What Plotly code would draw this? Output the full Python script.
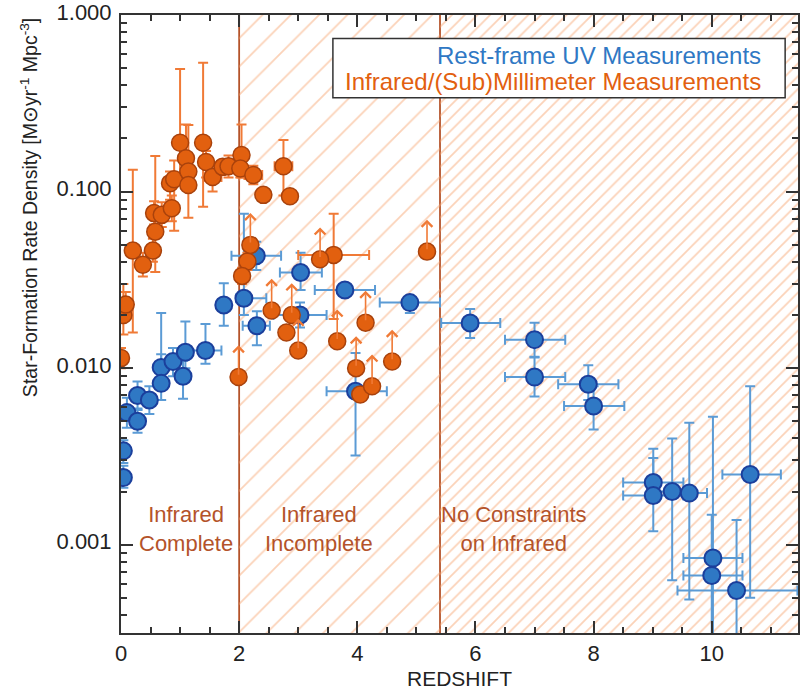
import numpy as np
import plotly.graph_objects as go

# rest-frame UV measurements
uv_z = [0.04, 0.04, 0.10, 0.28, 0.28, 0.48, 0.68, 0.68, 0.88, 1.09, 1.05, 1.43, 1.74, 2.08, 2.29,
        2.30, 3.04, 3.03, 3.79, 4.89, 5.91, 7.00, 7.00, 7.91, 8.00, 9.01, 9.01, 9.33, 9.62,
        10.65, 10.02, 10.00, 10.42, 3.97]
uv_zm = [0.04, 0.04, 0.05, 0.08, 0.08, 0.10, 0.10, 0.10, 0.10, 0.10, 0.10, 0.25, 0.00, 0.13, 0.42,
         0.24, 0.35, 0.45, 0.51, 0.51, 0.49, 0.50, 0.50, 0.51, 0.50, 0.51, 0.51, 0.30, 0.10,
         0.47, 0.50, 0.48, 1.00, 0.49]
uv_zp = [0.04, 0.04, 0.05, 0.08, 0.08, 0.10, 0.10, 0.10, 0.10, 0.10, 0.10, 0.27, 0.00, 0.38, 0.42,
         0.22, 0.36, 0.45, 0.51, 0.51, 0.51, 0.52, 0.52, 0.51, 0.52, 0.51, 0.51, 0.20, 0.30,
         0.52, 0.50, 0.52, 1.03, 0.53]
uv_sfr = [0.0034, 0.0024, 0.0056, 0.0050, 0.0070, 0.0066, 0.0101, 0.0082, 0.0109, 0.0123, 0.0090,
          0.0126, 0.0228, 0.0249, 0.0433, 0.0174, 0.0348, 0.0200, 0.0277, 0.0235, 0.0180, 0.0145,
          0.0089, 0.0081, 0.0061, 0.00225, 0.0019, 0.0020, 0.00196, 0.0025, 0.00084, 0.00067,
          0.00055, 0.0074]
uv_lo = [0.0029, 0.0021, 0.0046, 0.0043, 0.0058, 0.0055, 0.0085, 0.0066, 0.0090, 0.0100, 0.0067,
         0.0106, 0.0174, 0.0200, 0.0360, 0.0135, 0.0277, 0.0170, 0.0255, 0.0205, 0.0148, 0.0116,
         0.0069, 0.0066, 0.0045, 0.0018, 0.00119, 0.00063, 0.00049, 0.0005, 0.0001, 0.0001,
         0.0001, 0.0032]
uv_hi = [0.0039, 0.0028, 0.0068, 0.0059, 0.0084, 0.0079, 0.0120, 0.0205, 0.0130, 0.0184, 0.0110,
         0.0178, 0.0303, 0.0750, 0.0520, 0.0210, 0.0450, 0.0235, 0.0300, 0.0257, 0.0216, 0.0181,
         0.0115, 0.0104, 0.0079, 0.0035, 0.0031, 0.0040, 0.0049, 0.0079, 0.0053, 0.00148,
         0.00138, 0.0122]

# infrared / (sub)mm measurements
ir_z = [0.00, 0.04, 0.08, 0.20, 0.37, 0.54, 0.58, 0.56, 0.69, 0.86, 0.83, 0.90, 1.00, 1.10, 1.14,
        1.14, 1.39, 1.44, 1.55, 1.72, 1.82, 2.04, 2.02, 2.24, 2.41, 2.75, 2.86, 2.14, 2.05, 3.60,
        2.80, 4.05]
ir_zm = [0.00, 0.03, 0.04, 0.05, 0.08, 0.05, 0.05, 0.10, 0.10, 0.10, 0.10, 0.10, 0.10, 0.10, 0.10,
         0.10, 0.10, 0.10, 0.15, 0.10, 0.10, 0.05, 0.10, 0.15, 0.10, 0.15, 0.10, 0.10, 0.05, 0.60,
         0.00, 0.00]
ir_zp = ir_zm
ir_sfr = [0.0114, 0.0200, 0.0229, 0.0463, 0.0385, 0.0463, 0.0593, 0.0755, 0.0738, 0.0805, 0.1116,
          0.1175, 0.189, 0.1545, 0.130, 0.109, 0.189, 0.147, 0.121, 0.138, 0.139, 0.161, 0.135,
          0.124, 0.0958, 0.139, 0.094, 0.0402, 0.0333, 0.0438, 0.0159, 0.0071]
ir_lo = [0.0100, 0.0155, 0.0190, 0.0159, 0.0330, 0.0400, 0.0350, 0.0650, 0.0630, 0.0680, 0.0900,
         0.0600, 0.110, 0.130, 0.115, 0.071, 0.082, 0.120, 0.100, 0.125, 0.120, 0.120, 0.120,
         0.110, 0.0900, 0.095, 0.088, 0.0360, 0.0300, 0.0190, 0.0159, 0.0071]
ir_hi = [0.0130, 0.0300, 0.0270, 0.1330, 0.0450, 0.0540, 0.1590, 0.0880, 0.0870, 0.0950, 0.1300,
         0.1500, 0.495, 0.240, 0.150, 0.238, 0.537, 0.170, 0.145, 0.150, 0.160, 0.240, 0.150,
         0.140, 0.1000, 0.196, 0.100, 0.0450, 0.0370, 0.0750, 0.0159, 0.0071]

# infrared lower limits
lim_z = [2.19, 3.37, 2.55, 2.89, 3.00, 3.66, 4.14, 5.18, 1.99, 3.98, 4.25, 4.59]
lim_sfr = [0.0499, 0.0414, 0.0212, 0.0200, 0.0126, 0.0142, 0.0181, 0.0457, 0.0089, 0.0100, 0.0079, 0.0109]

BLUE = '#2f78c4'
BLUE_DARK = '#1b3f9c'
BLUE_ERR = '#5b9bd5'
ORANGE = '#e2600f'
ORANGE_DARK = '#a9420c'
ORANGE_ERR = '#f07a36'
BROWN = '#b4532a'
HATCH = '#f7a672'
FONT = 'Liberation Sans, Arial, sans-serif'

fig = go.Figure()

# hatched regions
fig.add_trace(go.Scatter(x=[2, 5.4, 5.4, 2, 2], y=[1e-5, 1e-5, 10, 10, 1e-5], mode='lines',
                         line=dict(width=0), fill='toself', fillcolor='rgba(0,0,0,0)',
                         fillpattern=dict(shape='/', fgcolor=HATCH, size=20, solidity=0.09,
                                          bgcolor='rgba(0,0,0,0)'),
                         hoverinfo='skip'))
fig.add_trace(go.Scatter(x=[5.4, 12, 12, 5.4, 5.4], y=[1e-5, 1e-5, 10, 10, 1e-5], mode='lines',
                         line=dict(width=0), fill='toself', fillcolor='rgba(0,0,0,0)',
                         fillpattern=dict(shape='/', fgcolor=HATCH, size=9, solidity=0.2,
                                          bgcolor='rgba(0,0,0,0)'),
                         hoverinfo='skip'))

uv_sfr_a = np.array(uv_sfr)
fig.add_trace(go.Scatter(
    x=uv_z, y=uv_sfr, mode='markers',
    marker=dict(size=17, color=BLUE, line=dict(color=BLUE_DARK, width=2)),
    error_x=dict(type='data', symmetric=False, array=uv_zp, arrayminus=uv_zm,
                 color=BLUE_ERR, thickness=2, width=5),
    error_y=dict(type='data', symmetric=False, array=list(np.array(uv_hi) - uv_sfr_a),
                 arrayminus=list(uv_sfr_a - np.array(uv_lo)), color=BLUE_ERR, thickness=2, width=5),
))

ir_sfr_a = np.array(ir_sfr)
fig.add_trace(go.Scatter(
    x=ir_z, y=ir_sfr, mode='markers',
    marker=dict(size=17, color=ORANGE, line=dict(color=ORANGE_DARK, width=1.5)),
    error_x=dict(type='data', symmetric=False, array=ir_zp, arrayminus=ir_zm,
                 color=ORANGE_ERR, thickness=2, width=5),
    error_y=dict(type='data', symmetric=False, array=list(np.array(ir_hi) - ir_sfr_a),
                 arrayminus=list(ir_sfr_a - np.array(ir_lo)), color=ORANGE_ERR, thickness=2, width=5),
))

fig.add_trace(go.Scatter(
    x=lim_z, y=lim_sfr, mode='markers',
    marker=dict(size=17, color=ORANGE, line=dict(color=ORANGE_DARK, width=1.5)),
))

# lower-limit arrows
for z, s in zip(lim_z, lim_sfr):
    fig.add_annotation(x=z, y=np.log10(s) + 0.18, xref='x', yref='y', text='',
                       showarrow=True, ax=0, ay=31, arrowhead=4, arrowsize=1.3,
                       arrowwidth=1.6, arrowcolor=ORANGE_ERR)

# region boundaries
for xb in [2, 5.4]:
    fig.add_shape(type='line', xref='x', yref='paper', x0=xb, x1=xb, y0=0, y1=1,
                  line=dict(color=BROWN, width=1.8), layer='below')

region_text = ['Infrared<br>Complete', 'Infrared<br>Incomplete', 'No Constraints<br>on Infrared']
region_x = [1.1, 3.36, 6.65]
for t, xr in zip(region_text, region_x):
    fig.add_annotation(x=xr, y=np.log10(0.00122), xref='x', yref='y', text=t, showarrow=False,
                       font=dict(family=FONT, size=22, color=BROWN), align='center')

# legend box
fig.add_shape(type='rect', xref='paper', yref='paper', x0=0.313, x1=0.981, y0=0.866, y1=0.962,
              line=dict(color='#333333', width=1.5), fillcolor='white', layer='above')
fig.add_annotation(xref='paper', yref='paper', x=0.948, y=0.935, xanchor='right', yanchor='middle',
                   text='Rest-frame UV Measurements', showarrow=False,
                   font=dict(family=FONT, size=24, color=BLUE))
fig.add_annotation(xref='paper', yref='paper', x=0.948, y=0.892, xanchor='right', yanchor='middle',
                   text='Infrared/(Sub)Millimeter Measurements', showarrow=False,
                   font=dict(family=FONT, size=24, color=ORANGE))

# axis titles
fig.add_annotation(xref='paper', yref='paper', x=0.5, y=-0.074, xanchor='center', yanchor='middle',
                   text='REDSHIFT', showarrow=False, font=dict(family=FONT, size=21, color='#222222'))
fig.add_annotation(xref='paper', yref='paper', x=-0.136, y=0.689, xanchor='center', yanchor='middle',
                   textangle=-90, showarrow=False,
                   text='Star-Formation Rate Density [M\u2299yr<sup>-1</sup> Mpc<sup>-3</sup>]',
                   font=dict(family=FONT, size=19.5, color='#222222'))

minor_y = [d * 10.0 ** e for e in range(-4, 0) for d in range(2, 10)]

fig.update_layout(
    width=802, height=690,
    margin=dict(l=121, r=4, t=15, b=57),
    plot_bgcolor='white', paper_bgcolor='white',
    showlegend=False,
    font=dict(family=FONT, color='#222222'),
    xaxis=dict(range=[0, 11.46], tickvals=[0, 2, 4, 6, 8, 10], ticks='inside', ticklen=12,
               tickwidth=1.5, tickcolor='#333333', showline=True, linecolor='#333333', linewidth=2,
               mirror='allticks', showgrid=False, zeroline=False, tickfont=dict(size=22),
               automargin=False,
               minor=dict(ticks='inside', ticklen=6, tickwidth=1.5, tickcolor='#333333',
                          dtick=0.5, tick0=0, showgrid=False)),
    yaxis=dict(type='log', range=[-3.5, 0], tickvals=[0.001, 0.01, 0.1, 1],
               ticktext=['0.001', '0.010', '0.100', '1.000'], ticks='inside', ticklen=12,
               tickwidth=1.5, tickcolor='#333333', showline=True, linecolor='#333333', linewidth=2,
               mirror='allticks', showgrid=False, zeroline=False, tickfont=dict(size=22),
               automargin=False, ticklabelstandoff=3, ticklabeloverflow='allow',
               ticklabelshift=-3,
               minor=dict(ticks='inside', ticklen=6, tickwidth=1.5, tickcolor='#333333',
                          tickvals=minor_y, showgrid=False)),
)

# drop the default page margin so the figure fills the window exactly
fig.write_html("out.html", config={'displayModeBar': False},
               post_script="document.body.style.margin='0px';")
